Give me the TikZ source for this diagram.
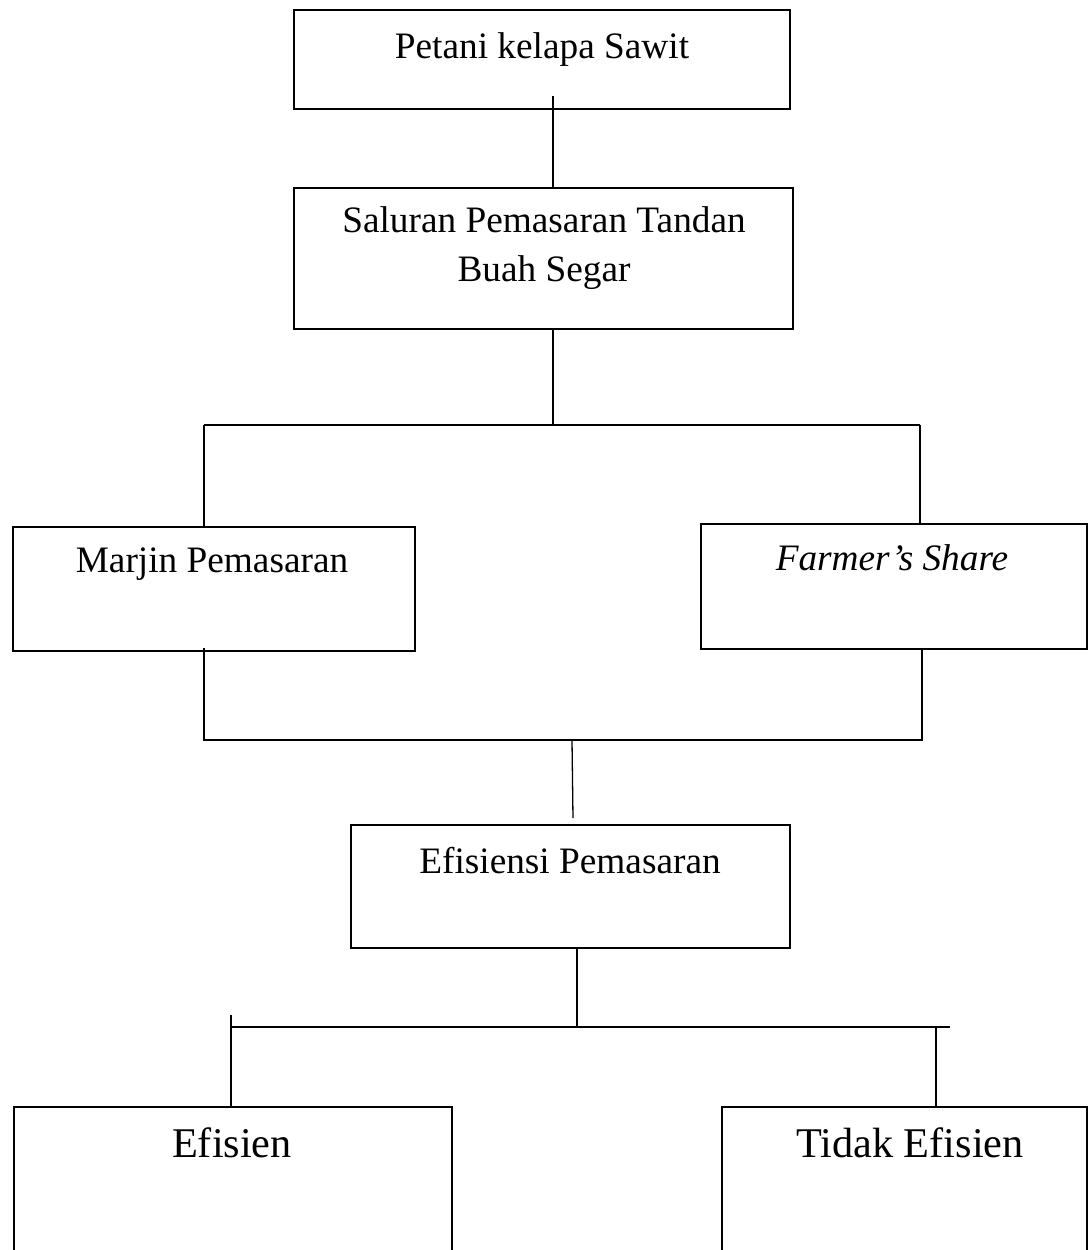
\documentclass[tikz,border=0pt]{standalone}
\usepackage{fontspec}
\setmainfont{Liberation Serif}
\usetikzlibrary{fit}
\begin{document}
\begin{tikzpicture}[x=0.5pt,y=-0.5pt,
  box/.style={draw, line width=1pt, inner sep=0pt, outer sep=0pt},
  conn/.style={line width=0.65pt},
  txt/.style={font=\fontsize{18.65}{24.5}\selectfont, anchor=base, inner sep=0pt},
  bigtxt/.style={font=\fontsize{21.15}{26}\selectfont, anchor=base, inner sep=0pt}]
\useasboundingbox (0,0) rectangle (1089,1250);
\clip (0,0) rectangle (1089,1250);
% boxes
\node[box, fit={(294,10) (790,109)}] (b1) {};
\node[box, fit={(294,188) (793,329)}] (b2) {};
\node[box, fit={(13,527) (415,651)}] (b3) {};
\node[box, fit={(701,524) (1087,649)}] (b4) {};
\node[box, fit={(351,825) (790,948)}] (b5) {};
\node[box, fit={(14,1107) (452,1280)}] (b6) {};
\node[box, fit={(722,1107) (1087,1280)}] (b7) {};
% texts
\node[txt] (t1) at (542,58) {Petani kelapa Sawit};
\node[txt] (t2a) at (544,232) {Saluran Pemasaran Tandan};
\node[txt] (t2b) at (544,281) {Buah Segar};
\node[txt] (t3) at (212,572) {Marjin Pemasaran};
\node[txt] (t4) at (892,570) {\itshape Farmer’s Share};
\node[txt] (t5) at (570,873) {Efisiensi Pemasaran};
\node[bigtxt] (t6) at (232,1157) {Efisien};
\node[bigtxt] (t7) at (910,1157) {Tidak Efisien};
% connectors
\coordinate (c1) at (553,96);
\draw[conn] (c1) -- (c1 |- b2.north);
\coordinate (j1) at (553,425);
\coordinate (j1l) at (204,425);
\coordinate (j1r) at (920,425);
\draw[conn] (j1 |- b2.south) -- (j1);
\draw[conn] (j1l) -- (j1r);
\draw[conn] (j1l) -- (j1l |- b3.north);
\draw[conn] (j1r) -- (j1r |- b4.north);
\coordinate (j2l) at (204,740);
\coordinate (j2r) at (922,740);
\coordinate (j2) at (572,740);
\coordinate (c5) at (573,818);
\draw[conn] (j2l |- 0,648) -- (j2l) -- (j2r) -- (j2r |- b4.south);
\draw[conn] (j2) -- (c5);
\coordinate (j3) at (577,1027);
\coordinate (j3l) at (231,1027);
\coordinate (j3r) at (950,1027);
\coordinate (j3lt) at (231,1015);
\coordinate (j3b) at (936,1027);
\draw[conn] (j3 |- b5.south) -- (j3);
\draw[conn] (j3l) -- (j3r);
\draw[conn] (j3lt) -- (j3lt |- b6.north);
\draw[conn] (j3b) -- (j3b |- b7.north);
\end{tikzpicture}
\end{document}
